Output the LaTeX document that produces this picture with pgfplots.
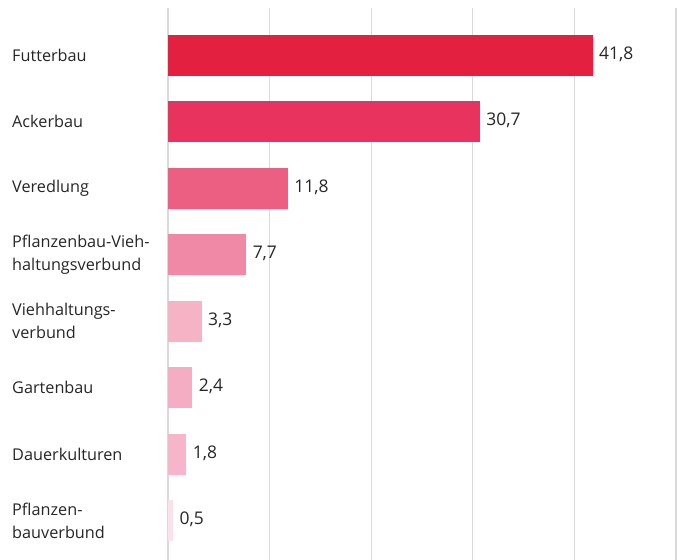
\documentclass[border=0pt]{standalone}
\usepackage{pgfplots}
\pgfplotsset{compat=1.18}
\usepackage{fontspec}
\setmainfont{Open Sans}
\definecolor{c1}{HTML}{E42040}
\definecolor{c2}{HTML}{E8335E}
\definecolor{c3}{HTML}{EC5E82}
\definecolor{c4}{HTML}{F089A6}
\definecolor{c5}{HTML}{F6B3C6}
\definecolor{c6}{HTML}{F4ADC3}
\definecolor{c7}{HTML}{F6B5C8}
\definecolor{c8}{HTML}{FBE1E9}
\definecolor{gridc}{HTML}{D9D9D9}
\begin{document}
\begin{tikzpicture}
\begin{axis}[
  name=ax,
  scale only axis,
  width=508bp, height=552bp,
  xmin=0, xmax=50,
  ymin=-0.71, ymax=7.59, y dir=reverse,
  xbar, bar shift=0pt, bar width=0.62,
  axis line style={draw=none},
  major tick length=0pt,
  xtick={0,10,...,50}, xticklabel=\empty,
  xmajorgrids, grid style={draw=gridc, line width=1.2bp},
  ytick={0,...,7},
  yticklabels={Futterbau, Ackerbau, Veredlung, {Pflanzenbau-Vieh-\\haltungsverbund}, {Viehhaltungs-\\verbund}, Gartenbau, Dauerkulturen, {Pflanzen-\\bauverbund}},
  yticklabel style={anchor=west, align=left, xshift=-156bp, inner sep=0pt, font=\fontsize{16.3}{23}\selectfont, text=black!85},
  point meta=x,
  nodes near coords={\pgfmathprintnumber[use comma,fixed,fixed zerofill,precision=1,assume math mode=true]{\pgfplotspointmeta}},
  nodes near coords style={anchor=west, xshift=3bp, yshift=1bp, font=\fontsize{17.5}{20}\selectfont, text=black!85},
  clip=false,
]
\addplot[fill=c1, draw=none, bar shift=0pt] coordinates {(41.8,0)};
\addplot[fill=c2, draw=none, bar shift=0pt] coordinates {(30.7,1)};
\addplot[fill=c3, draw=none, bar shift=0pt] coordinates {(11.8,2)};
\addplot[fill=c4, draw=none, bar shift=0pt] coordinates {(7.7,3)};
\addplot[fill=c5, draw=none, bar shift=0pt] coordinates {(3.3,4)};
\addplot[fill=c6, draw=none, bar shift=0pt] coordinates {(2.4,5)};
\addplot[fill=c7, draw=none, bar shift=0pt] coordinates {(1.8,6)};
\addplot[fill=c8, draw=none, bar shift=0pt] coordinates {(0.5,7)};
\end{axis}
\pgfresetboundingbox
\path ([xshift=-168bp]ax.south west) rectangle ([xshift=2bp,yshift=8bp]ax.north east);
\end{tikzpicture}
\end{document}
